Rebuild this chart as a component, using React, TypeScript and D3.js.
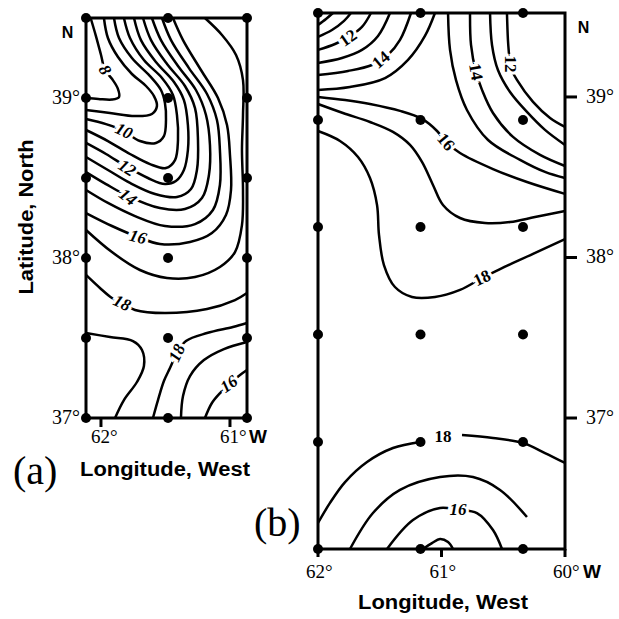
import React from "react";
import * as d3 from "d3";

// ---------- stations ----------
const STATIONS_A_LON = [62.116, 61.48, 60.868];
const STATIONS_A_LAT = [39.5, 39, 38.5, 38, 37.5, 37];
const STATIONS_B_LON = [62, 61.17, 60.34];
const STATIONS_B_LAT = [39.523, 38.856, 38.19, 37.52, 36.85, 36.184];

// ---------- ticks ----------
const TICKS_A_LAT = [39, 38, 37];
const TICKS_A_LON = [62, 61];
const TICKS_B_LAT = [39, 38, 37];
const TICKS_B_LON = [62, 61, 60];

type P = [number, number];
// ---------- panel (a) isotherms (lon W, lat N) ----------
const CONTOURS_A: { level: number; pts: P[] }[] = [
  { level: 8, pts: [[62.08, 39.5], [62.04, 39.39], [62.0, 39.27], [61.969, 39.175], [61.915, 39.12], [61.87, 39.06], [61.86, 39.006], [61.915, 38.99], [62.02, 38.994], [62.116, 39.0]] },
  { level: 9, pts: [[61.977, 39.5], [61.946, 39.375], [61.868, 39.256], [61.76, 39.15], [61.651, 39.075], [61.589, 39.012], [61.566, 38.95], [61.605, 38.9], [61.736, 38.887], [61.93, 38.906], [62.116, 38.925]] },
  { level: 10, pts: [[61.899, 39.5], [61.86, 39.375], [61.76, 39.25], [61.62, 39.137], [61.535, 39.05], [61.504, 38.969], [61.496, 38.862], [61.512, 38.762], [61.574, 38.719], [61.698, 38.731], [61.822, 38.794], [61.961, 38.837], [62.116, 38.869]] },
  { level: 11, pts: [[61.822, 39.5], [61.775, 39.375], [61.667, 39.237], [61.527, 39.125], [61.442, 39.019], [61.411, 38.894], [61.403, 38.737], [61.426, 38.612], [61.496, 38.562], [61.62, 38.587], [61.775, 38.65], [61.946, 38.731], [62.116, 38.8]] },
  { level: 12, pts: [[61.744, 39.5], [61.69, 39.362], [61.574, 39.225], [61.434, 39.1], [61.357, 38.987], [61.326, 38.831], [61.326, 38.675], [61.357, 38.55], [61.419, 38.481], [61.504, 38.462], [61.636, 38.5], [61.798, 38.569], [61.961, 38.65], [62.116, 38.719]] },
  { level: 13, pts: [[61.674, 39.5], [61.612, 39.362], [61.488, 39.212], [61.349, 39.075], [61.271, 38.937], [61.248, 38.737], [61.256, 38.55], [61.302, 38.431], [61.411, 38.381], [61.581, 38.4], [61.775, 38.469], [61.946, 38.55], [62.116, 38.631]] },
  { level: 14, pts: [[61.605, 39.5], [61.535, 39.362], [61.403, 39.2], [61.264, 39.05], [61.186, 38.894], [61.155, 38.706], [61.163, 38.519], [61.217, 38.375], [61.349, 38.306], [61.543, 38.312], [61.791, 38.387], [61.961, 38.462], [62.116, 38.537]] },
  { level: 15, pts: [[61.527, 39.5], [61.457, 39.362], [61.318, 39.187], [61.178, 39.025], [61.101, 38.862], [61.078, 38.675], [61.078, 38.456], [61.132, 38.3], [61.271, 38.212], [61.504, 38.2], [61.736, 38.262], [61.946, 38.344], [62.116, 38.425]] },
  { level: 16, pts: [[61.442, 39.5], [61.364, 39.362], [61.225, 39.175], [61.093, 39.0], [61.023, 38.831], [61.0, 38.644], [60.992, 38.425], [61.031, 38.269], [61.14, 38.156], [61.31, 38.1], [61.543, 38.0875], [61.713, 38.131], [61.915, 38.2], [62.116, 38.281]] },
  { level: 17, pts: [[61.194, 39.5], [61.062, 39.394], [60.953, 39.269], [60.899, 39.112], [60.899, 38.894], [60.907, 38.675], [60.899, 38.425], [60.907, 38.206], [60.961, 38.037], [61.078, 37.944], [61.271, 37.881], [61.488, 37.875], [61.698, 37.925], [61.915, 38.037], [62.116, 38.175]] },
  { level: 18, pts: [[62.116, 37.894], [62.008, 37.8125], [61.915, 37.75], [61.837, 37.719], [61.736, 37.675], [61.504, 37.656], [61.178, 37.681], [60.961, 37.737], [60.868, 37.781]] },
  { level: 18, pts: [[62.116, 37.531], [61.93, 37.506], [61.752, 37.481], [61.682, 37.425], [61.667, 37.325], [61.721, 37.225], [61.822, 37.112], [61.891, 37.0]] },
  { level: 18, pts: [[61.597, 37.0], [61.558, 37.112], [61.512, 37.231], [61.465, 37.312], [61.411, 37.406], [61.341, 37.481], [61.178, 37.531], [60.977, 37.569], [60.868, 37.594]] },
  { level: 17, pts: [[61.38, 37.0], [61.364, 37.137], [61.31, 37.262], [61.202, 37.362], [61.047, 37.431], [60.868, 37.475]] },
  { level: 16, pts: [[61.194, 37.0], [61.14, 37.094], [61.07, 37.162], [61.008, 37.212], [60.922, 37.269], [60.868, 37.3]] },
];
const LABELS_A: { text: string; lon: number; lat: number; rot: number }[] = [
  { text: "8", lon: 61.969, lat: 39.175, rot: 60 },
  { text: "10", lon: 61.822, lat: 38.794, rot: 25 },
  { text: "12", lon: 61.798, lat: 38.5625, rot: 33 },
  { text: "14", lon: 61.791, lat: 38.381, rot: 38 },
  { text: "16", lon: 61.713, lat: 38.131, rot: 15 },
  { text: "18", lon: 61.837, lat: 37.719, rot: 25 },
  { text: "18", lon: 61.411, lat: 37.406, rot: -65 },
  { text: "16", lon: 61.008, lat: 37.2125, rot: -35 },
];

// ---------- panel (b) isotherms ----------
const CONTOURS_B: { level: number; pts: P[] }[] = [
  { level: 10, pts: [[62, 39.449], [61.935, 39.486], [61.879, 39.523]] },
  { level: 11, pts: [[62, 39.374], [61.887, 39.417], [61.789, 39.474], [61.733, 39.523]] },
  { level: 12, pts: [[62, 39.293], [61.862, 39.33], [61.749, 39.374], [61.644, 39.436], [61.571, 39.523]] },
  { level: 13, pts: [[62, 39.212], [61.806, 39.243], [61.644, 39.293], [61.514, 39.38], [61.417, 39.523]] },
  { level: 14, pts: [[62, 39.137], [61.757, 39.162], [61.563, 39.199], [61.433, 39.262], [61.336, 39.355], [61.247, 39.523]] },
  { level: 15, pts: [[62, 39.044], [61.741, 39.062], [61.457, 39.118], [61.271, 39.231], [61.134, 39.38], [61.053, 39.523]] },
  { level: 16, pts: [[62, 39.0], [61.781, 38.981], [61.579, 38.956], [61.336, 38.913], [61.158, 38.863], [61.036, 38.788], [60.964, 38.72], [60.85, 38.651], [60.583, 38.551], [60.308, 38.47], [60.0, 38.396]] },
  { level: 17, pts: [[62, 38.956], [61.798, 38.9], [61.579, 38.844], [61.393, 38.782], [61.255, 38.701], [61.158, 38.595], [61.069, 38.452], [60.988, 38.327], [60.85, 38.246], [60.648, 38.215], [60.445, 38.221], [60.243, 38.252], [60.0, 38.289]] },
  { level: 18, pts: [[62, 38.788], [61.822, 38.726], [61.676, 38.626], [61.579, 38.495], [61.522, 38.327], [61.506, 38.14], [61.466, 37.953], [61.377, 37.816], [61.239, 37.754], [61.053, 37.754], [60.85, 37.798], [60.672, 37.872], [60.526, 37.928], [60.259, 38.022], [60.0, 38.115]] },
  { level: 15, pts: [[60.947, 39.523], [60.931, 39.293], [60.883, 39.106], [60.794, 38.919], [60.623, 38.732], [60.364, 38.608], [60.162, 38.533], [60.0, 38.495]] },
  { level: 14, pts: [[60.769, 39.523], [60.761, 39.324], [60.721, 39.156], [60.672, 39.044], [60.583, 38.9], [60.421, 38.751], [60.202, 38.639], [60.0, 38.57]] },
  { level: 13, pts: [[60.607, 39.523], [60.591, 39.324], [60.543, 39.168], [60.445, 39.031], [60.308, 38.907], [60.162, 38.795], [60.0, 38.701]] },
  { level: 12, pts: [[60.47, 39.523], [60.462, 39.355], [60.453, 39.262], [60.445, 39.193], [60.389, 39.106], [60.259, 38.969], [60.121, 38.869], [60.0, 38.813]] },
  { level: 18, pts: [[62, 36.346], [61.903, 36.471], [61.781, 36.601], [61.603, 36.726], [61.393, 36.813], [61.174, 36.851]] },
  { level: 18, pts: [[60.834, 36.894], [60.583, 36.875], [60.34, 36.844], [60.162, 36.782], [60.0, 36.72]] },
  { level: 17, pts: [[61.741, 36.184], [61.555, 36.408], [61.336, 36.552], [61.012, 36.632], [60.745, 36.632], [60.526, 36.552], [60.308, 36.383]] },
  { level: 16, pts: [[61.441, 36.184], [61.231, 36.364], [61.012, 36.439], [60.866, 36.427], [60.713, 36.408], [60.583, 36.302], [60.51, 36.184]] },
  { level: 15, pts: [[61.15, 36.184], [61.077, 36.221], [61.012, 36.246], [60.947, 36.227], [60.907, 36.184]] },
];
const LABELS_B: { text: string; lon: number; lat: number; rot: number; italic: boolean }[] = [
  { text: "12", lon: 61.757, lat: 39.368, rot: -35, italic: false },
  { text: "14", lon: 61.49, lat: 39.231, rot: -40, italic: false },
  { text: "14", lon: 60.721, lat: 39.156, rot: 80, italic: false },
  { text: "12", lon: 60.445, lat: 39.206, rot: 90, italic: false },
  { text: "16", lon: 60.964, lat: 38.72, rot: 50, italic: false },
  { text: "18", lon: 60.672, lat: 37.872, rot: -25, italic: false },
  { text: "18", lon: 60.988, lat: 36.882, rot: 0, italic: false },
  { text: "16", lon: 60.866, lat: 36.427, rot: 0, italic: true },
];

const SERIF = "'Liberation Serif', 'Times New Roman', serif";
const SANS = "'Liberation Sans', Arial, sans-serif";

export default function App() {
  const xA = d3.scaleLinear().domain([62.116, 60.868]).range([86, 247]);
  const yA = d3.scaleLinear().domain([39.5, 37]).range([18, 418]);
  const xB = d3.scaleLinear().domain([62, 60]).range([318, 565]);
  const yB = d3.scaleLinear().domain([39.523, 36.184]).range([13, 549]);

  const lineA = d3.line<P>().x((d) => xA(d[0])).y((d) => yA(d[1])).curve(d3.curveCatmullRom.alpha(0.5));
  const lineB = d3.line<P>().x((d) => xB(d[0])).y((d) => yB(d[1])).curve(d3.curveCatmullRom.alpha(0.5));

  const labelStyle = (italic: boolean) => ({
    fontFamily: SERIF,
    fontStyle: italic ? "italic" : "normal",
    fontWeight: "bold" as const,
    fontSize: 17,
    stroke: "white",
    strokeWidth: 6,
    paintOrder: "stroke" as const,
    fill: "black",
  });

  return (
    <svg width={619} height={619} style={{ position: "absolute", left: 0, top: 0, background: "white" }}>
      <rect x={0} y={0} width={619} height={619} fill="white" />
      {/* ---------- panel (a) ---------- */}
      <g>
        {CONTOURS_A.map((c, i) => (
          <path key={i} d={lineA(c.pts) || ""} fill="none" stroke="black" strokeWidth={2.5} />
        ))}
        {LABELS_A.map((l, i) => (
          <text key={i} transform={`translate(${xA(l.lon)},${yA(l.lat)}) rotate(${l.rot})`} textAnchor="middle" dominantBaseline="central" style={labelStyle(true)}>
            {l.text}
          </text>
        ))}
        <rect x={xA(62.116)} y={yA(39.5)} width={xA(60.868) - xA(62.116)} height={yA(37) - yA(39.5)} fill="none" stroke="black" strokeWidth={3} />
        {STATIONS_A_LAT.map((la) =>
          STATIONS_A_LON.map((lo) => <circle key={`${la}-${lo}`} cx={xA(lo)} cy={yA(la)} r={5} fill="black" />)
        )}
        {TICKS_A_LON.map((t) => (
          <line key={t} x1={xA(t)} x2={xA(t)} y1={yA(37)} y2={yA(37) + 9} stroke="black" strokeWidth={3} />
        ))}
        {TICKS_A_LAT.map((t) => (
          <text key={t} x={80} y={yA(t) + 6} textAnchor="end" fontFamily={SERIF} fontSize={20}>
            {t}°
          </text>
        ))}
        {TICKS_A_LON.map((t) => (
          <text key={t} x={xA(t) - 10} y={443} fontFamily={SERIF} fontSize={19}>
            {t}°
          </text>
        ))}
        <text x={249} y={443} fontFamily={SANS} fontWeight="bold" fontSize={19}>W</text>
        <text x={67.5} y={38} textAnchor="middle" fontFamily={SANS} fontWeight="bold" fontSize={16}>N</text>
        <text x={80} y={476} fontFamily={SANS} fontWeight="bold" fontSize={20} textLength={170} lengthAdjust="spacingAndGlyphs">
          Longitude, West
        </text>
        <text x={13} y={484} fontFamily={SERIF} fontSize={40}>(a)</text>
        <text transform="translate(33,217) rotate(-90)" textAnchor="middle" fontFamily={SANS} fontWeight="bold" fontSize={21} textLength={155} lengthAdjust="spacingAndGlyphs">
          Latitude, North
        </text>
      </g>

      {/* ---------- panel (b) ---------- */}
      <g>
        {CONTOURS_B.map((c, i) => (
          <path key={i} d={lineB(c.pts) || ""} fill="none" stroke="black" strokeWidth={2.5} />
        ))}
        {LABELS_B.map((l, i) => (
          <text key={i} transform={`translate(${xB(l.lon)},${yB(l.lat)}) rotate(${l.rot})`} textAnchor="middle" dominantBaseline="central" style={labelStyle(l.italic)}>
            {l.text}
          </text>
        ))}
        <rect x={xB(62)} y={yB(39.523)} width={xB(60) - xB(62)} height={yB(36.184) - yB(39.523)} fill="none" stroke="black" strokeWidth={3} />
        {STATIONS_B_LAT.map((la) =>
          STATIONS_B_LON.map((lo) => <circle key={`${la}-${lo}`} cx={xB(lo)} cy={yB(la)} r={5} fill="black" />)
        )}
        {TICKS_B_LAT.map((t) => (
          <line key={t} x1={xB(60)} x2={xB(60) + 12} y1={yB(t)} y2={yB(t)} stroke="black" strokeWidth={3} />
        ))}
        {TICKS_B_LON.map((t) => (
          <line key={t} x1={xB(t)} x2={xB(t)} y1={yB(36.184)} y2={yB(36.184) + 8} stroke="black" strokeWidth={3} />
        ))}
        {TICKS_B_LAT.map((t) => (
          <text key={t} x={586} y={yB(t) + 6} fontFamily={SERIF} fontSize={20}>
            {t}°
          </text>
        ))}
        {TICKS_B_LON.map((t) => (
          <text key={t} x={xB(t) - 12} y={578} fontFamily={SERIF} fontSize={19}>
            {t}°
          </text>
        ))}
        <text x={583} y={578} fontFamily={SANS} fontWeight="bold" fontSize={19}>W</text>
        <text x={583.5} y={33} textAnchor="middle" fontFamily={SANS} fontWeight="bold" fontSize={16}>N</text>
        <text x={358} y={609} fontFamily={SANS} fontWeight="bold" fontSize={20} textLength={170} lengthAdjust="spacingAndGlyphs">
          Longitude, West
        </text>
        <text x={254} y={536} fontFamily={SERIF} fontSize={40}>(b)</text>
      </g>
    </svg>
  );
}
